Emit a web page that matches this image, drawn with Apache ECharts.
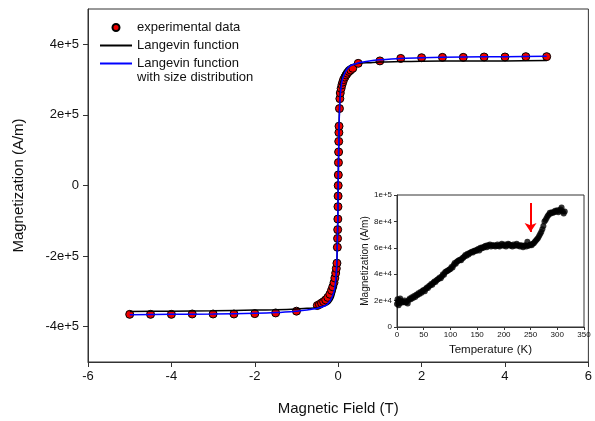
<!DOCTYPE html>
<html>
  <head>
    <meta charset="utf-8" />
    <title>Magnetization curve</title>
    <script src="https://cdn.jsdelivr.net/npm/echarts@6.0.0/dist/echarts.min.js"></script>
    <style>
      body { margin: 0; background: #fff; }
    </style>
  </head>
  <body>
    <div id="main" style="width: 595px; height: 421px"></div>
    <script>
      // measured points (field in T, magnetization in A/m)
      var expH = [
        -5, -4.5, -4, -3.5, -3, -2.5, -2, -1.5, -1,
        -0.5, -0.45, -0.4, -0.35, -0.3, -0.25, -0.2, -0.16, -0.13, -0.1, -0.08, -0.06, -0.045, -0.03,
        -0.02, -0.015, -0.012, -0.008, -0.005, -0.002, 0, 0.003, 0.006, 0.01, 0.013, 0.017, 0.02,
        0.03, 0.04, 0.05, 0.07, 0.09, 0.11, 0.13, 0.16, 0.19, 0.22, 0.26, 0.3, 0.35, 0.48,
        1, 1.5, 2, 2.5, 3, 3.5, 4, 4.5, 5
      ];
      var expM = [
        -365000, -365000, -365000, -364000, -364000, -364000, -363000, -361000, -356000,
        -340000, -337000, -333000, -329000, -324000, -317000, -308000, -297000, -287000, -275000, -262000, -248000, -235000, -220000,
        -175000, -150000, -125000, -95000, -60000, -30000, 0, 30000, 65000, 95000, 125000, 150000, 168000,
        218000, 246000, 262000, 275000, 285000, 293000, 300000, 307000, 313000, 318000, 323000, 327000, 332000, 346000,
        353000, 360000, 362000, 363000, 363000, 364000, 364000, 365000, 365000
      ];

      // fitted curves
      var curveH = [
        -5, -4, -3, -2, -1.5, -1, -0.75, -0.5, -0.3, -0.2, -0.12, -0.08, -0.05, -0.03, -0.02, -0.01, -0.005,
        0, 0.005, 0.01, 0.02, 0.03, 0.05, 0.08, 0.12, 0.2, 0.3, 0.5, 0.75, 1, 1.5, 2, 3, 4, 5
      ];
      var langevinM = [
        -357000, -356000, -355000, -353000, -352000, -350000, -348000, -346000, -340000, -333000, -318000, -300000, -267000, -213000, -163000, -91000, -47000,
        0, 47000, 91000, 163000, 213000, 267000, 300000, 318000, 333000, 340000, 346000, 348000, 350000, 351000, 352000, 353000, 353000, 354000
      ];
      var distributionM = [
        -366000, -365000, -364000, -362000, -360000, -356000, -353000, -348000, -340000, -328000, -308000, -288000, -255000, -205000, -160000, -90000, -47000,
        0, 47000, 90000, 160000, 205000, 255000, 288000, 308000, 328000, 340000, 348000, 353000, 356000, 360000, 362000, 364000, 365000, 366000
      ];

      // inset: magnetization vs temperature
      var insetT = [
        0, 1, 2, 3, 4, 5, 6, 8, 10, 12, 14, 16, 18, 20, 22, 24, 26, 28, 30, 32, 34, 36, 38, 40,
        42, 44, 46, 48, 50, 52, 54, 56, 58, 60, 62, 64, 66, 68, 70, 72, 74, 76, 78, 80,
        82, 84, 86, 88, 90, 92, 94, 96, 98, 100, 102, 104, 106, 108, 110, 112, 114, 116, 118, 120,
        122, 124, 126, 128, 130, 132, 134, 136, 138, 140, 142, 144, 146, 148, 150, 152, 154, 156, 158, 160,
        162, 164, 166, 168, 170, 172, 174, 176, 178, 180, 182, 184, 186, 188, 190, 192, 194, 196, 198, 200,
        202, 204, 206, 208, 210, 212, 214, 216, 218, 220, 222, 224, 226, 228, 230, 232, 234, 236, 238, 240,
        242, 244, 246, 248, 250, 252, 254, 256, 258, 260, 262, 264, 266, 268, 270, 272, 274, 276, 278, 280,
        282, 284, 286, 288, 290, 292, 294, 296, 298, 300, 302, 304, 306, 308, 310, 312, 314
      ];
      var insetM = [
        17500, 21000, 19000, 16500, 20500, 18000, 21500, 19500, 18500, 19000, 20000, 18500, 19000, 17800, 20500, 21500, 21000, 22500, 22000, 23500, 22800, 24500, 24000, 25500,
        25000, 26500, 26000, 27500, 28000, 27000, 29000, 30000, 29500, 31000, 31500, 32500, 32000, 33500, 34500, 34000, 35500, 36000, 36500, 37500,
        37000, 38500, 40000, 39500, 41500, 42000, 42500, 43000, 43500, 44000, 45500, 45000, 47000, 48500, 48000, 49500, 50000, 50500, 51000, 50500,
        52000, 52500, 53500, 54500, 54000, 55500, 55000, 56000, 56500, 57000, 56500, 57500, 58000, 57500, 58500, 59000, 58000, 60000, 59500, 60500,
        60000, 61000, 61500, 60500, 62000, 61500, 62500, 61000, 62000, 61500, 62000, 61000, 61500, 62500, 61500, 61000, 62000, 63000, 62000, 61500,
        62500, 61000, 62000, 63000, 62500, 61500, 62000, 61000, 62500, 61500, 62000, 63000, 61500, 62000, 61000, 62000, 61500, 60500, 61500, 62000,
        61000, 64500, 61500, 62000, 62500, 62000, 63000, 63500, 64500, 65500, 66500, 67500, 69000, 70500, 72000, 74000, 76500, 80000, 81000, 82500,
        84000, 85000, 86500, 86000, 87000, 86500, 87000, 88000, 87500, 88500, 87000, 88000, 89000, 90500, 87500, 86000, 87500
      ];

      var yTicks = [-400000, -200000, 0, 200000, 400000];
      var arrowFrom = [250, 94000];
      var arrowTo = [250, 72000];

      function zip(a, b) {
        return a.map(function (v, i) {
          return [v, b[i]];
        });
      }
      function expLabel(v, p) {
        if (v === 0) return "0";
        return v / Math.pow(10, p) + "e+" + p;
      }

      var font = "Liberation Sans, Arial, sans-serif";
      var axisColor = "#333";
      var distName = "Langevin function with size distribution";

      var option = {
        animation: false,
        backgroundColor: "#fff",
        textStyle: { fontFamily: font },
        legend: {
          left: 99,
          top: 19,
          padding: 0,
          orient: "vertical",
          itemWidth: 32,
          itemHeight: 7,
          itemGap: 1,
          textStyle: { fontSize: 13, color: "#111", lineHeight: 17, fontFamily: font },
          data: [
            { name: "experimental data" },
            { name: "Langevin function", itemStyle: { opacity: 0 } },
            { name: distName, itemStyle: { opacity: 0 } },
          ],
          formatter: function (name) {
            return name === distName ? "Langevin function" : name;
          },
        },
        graphic: [
          {
            type: "text",
            left: 137,
            top: 71,
            style: { text: "with size distribution", fontSize: 13, fill: "#111", fontFamily: font },
          },
        ],
        grid: [
          {
            left: 88,
            right: 3,
            top: 9,
            bottom: 58,
            show: true,
            borderColor: axisColor,
            borderWidth: 1,
          },
          {
            left: 397,
            right: 11,
            top: 195,
            bottom: 94,
            show: true,
            borderColor: axisColor,
            borderWidth: 1,
            backgroundColor: "#fff",
          },
        ],
        xAxis: [
          {
            gridIndex: 0,
            type: "value",
            min: -6,
            max: 6,
            interval: 2,
            name: "Magnetic Field (T)",
            nameLocation: "middle",
            nameGap: 39,
            nameTextStyle: { fontSize: 15, color: "#111" },
            axisLine: { onZero: false, lineStyle: { color: axisColor } },
            axisTick: { inside: false, length: 5, lineStyle: { color: axisColor } },
            axisLabel: { fontSize: 13, color: "#111", margin: 8 },
            splitLine: { show: false },
          },
          {
            gridIndex: 1,
            type: "value",
            min: 0,
            max: 350,
            interval: 50,
            name: "Temperature (K)",
            nameLocation: "middle",
            nameGap: 17,
            nameTextStyle: { fontSize: 11.5, color: "#111" },
            axisLine: { onZero: false, lineStyle: { color: axisColor } },
            axisTick: { length: 3, lineStyle: { color: axisColor } },
            axisLabel: { fontSize: 8, color: "#111", margin: 4 },
            splitLine: { show: false },
          },
        ],
        yAxis: [
          {
            gridIndex: 0,
            type: "value",
            min: -500000,
            max: 500000,
            name: "Magnetization (A/m)",
            nameLocation: "middle",
            nameGap: 62,
            nameTextStyle: { fontSize: 15, color: "#111" },
            axisLine: { onZero: false, lineStyle: { color: axisColor } },
            axisTick: { length: 5, customValues: yTicks, lineStyle: { color: axisColor } },
            axisLabel: {
              fontSize: 13,
              color: "#111",
              margin: 9,
              customValues: yTicks,
              formatter: function (v) {
                return expLabel(v, 5);
              },
            },
            splitLine: { show: false },
          },
          {
            gridIndex: 1,
            type: "value",
            min: 0,
            max: 100000,
            interval: 20000,
            name: "Magnetization (A/m)",
            nameLocation: "middle",
            nameGap: 16,
            nameTextStyle: { fontSize: 10, color: "#111" },
            axisLine: { onZero: false, lineStyle: { color: axisColor } },
            axisTick: { length: 3, lineStyle: { color: axisColor } },
            axisLabel: {
              fontSize: 8,
              color: "#111",
              margin: 5,
              formatter: function (v) {
                return v === 100000 ? "1e+5" : expLabel(v, 4);
              },
            },
            splitLine: { show: false },
          },
        ],
        series: [
          {
            name: "experimental data",
            type: "scatter",
            xAxisIndex: 0,
            yAxisIndex: 0,
            symbolSize: 8,
            itemStyle: { color: "#ee0000", borderColor: "#000", borderWidth: 1, opacity: 1 },
            data: zip(expH, expM),
            z: 2,
          },
          {
            name: "Langevin function",
            type: "line",
            xAxisIndex: 0,
            yAxisIndex: 0,
            symbol: "none",
            smooth: 0.3,
            lineStyle: { color: "#000", width: 1.5 },
            itemStyle: { color: "#000" },
            data: zip(curveH, langevinM),
            z: 3,
          },
          {
            name: distName,
            type: "line",
            xAxisIndex: 0,
            yAxisIndex: 0,
            symbol: "none",
            smooth: 0.3,
            lineStyle: { color: "#0000ff", width: 1.5 },
            itemStyle: { color: "#0000ff" },
            data: zip(curveH, distributionM),
            z: 4,
          },
          {
            name: "inset",
            type: "scatter",
            xAxisIndex: 1,
            yAxisIndex: 1,
            symbolSize: 6,
            itemStyle: { color: "#000" },
            data: zip(insetT, insetM),
            markLine: {
              silent: true,
              symbol: ["none", "arrow"],
              symbolSize: 9,
              label: { show: false },
              lineStyle: { color: "#ff0000", width: 2, type: "solid" },
              data: [[{ coord: arrowFrom }, { coord: arrowTo }]],
            },
          },
        ],
      };

      var myChart = echarts.init(document.getElementById("main"));
      myChart.setOption(option);
    </script>
  </body>
</html>
